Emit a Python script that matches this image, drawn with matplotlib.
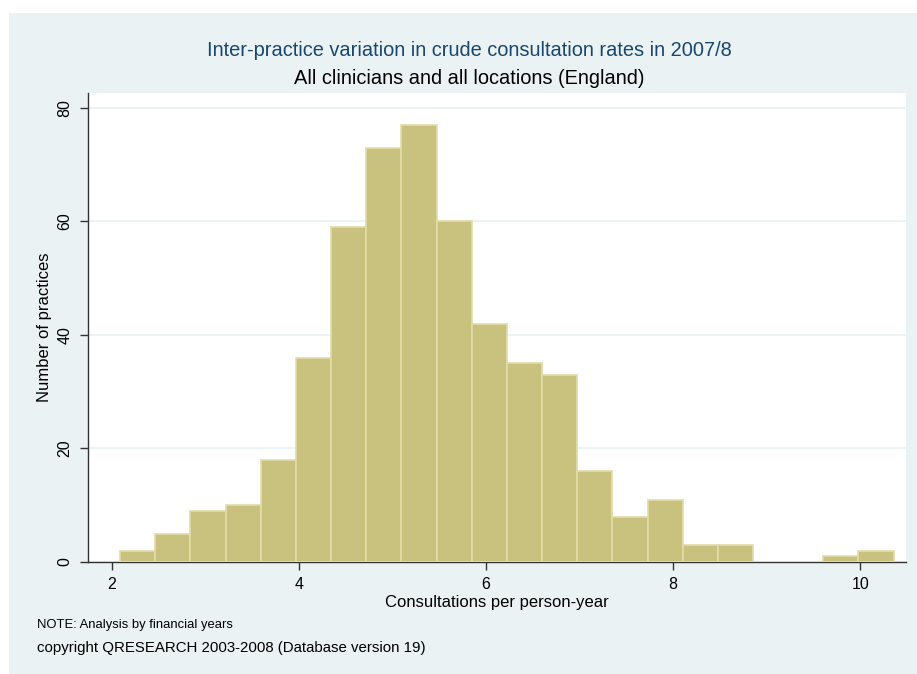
import matplotlib
matplotlib.use("Agg")
from matplotlib import pyplot as plt
from matplotlib.patches import Rectangle

# Histogram data: bin left edges and counts
bin_start = 2.086
bin_width = 0.376
counts = [2, 5, 9, 10, 18, 36, 59, 73, 77, 60, 42, 35, 33, 16, 8, 11, 3, 3, 0, 0, 1, 2]
lefts = [bin_start + i * bin_width for i in range(len(counts))]

x_ticks = [2, 4, 6, 8, 10]
y_ticks = [0, 20, 40, 60, 80]

title = "Inter-practice variation in crude consultation rates in 2007/8"
subtitle = "All clinicians and all locations (England)"
xlabel = "Consultations per person-year"
ylabel = "Number of practices"
note1 = "NOTE: Analysis by financial years"
note2 = "copyright QRESEARCH 2003-2008 (Database version 19)"

bg = '#eaf2f3'
plt.rcParams['font.family'] = ['Liberation Sans', 'DejaVu Sans']

W, H = 917, 674
fig = plt.figure(figsize=(W / 100, H / 100), dpi=100)
fig.patch.set_facecolor('white')

# outer light background panel
fig.patches.append(Rectangle((9 / W, 0), 1 - 9 / W, 1 - 13 / H,
                             transform=fig.transFigure, facecolor=bg,
                             edgecolor='none', zorder=-5))

ax_l, ax_r, ax_t, ax_b = 88, 906, 93, 562
ax = fig.add_axes([ax_l / W, 1 - ax_b / H, (ax_r - ax_l) / W, (ax_b - ax_t) / H])
ax.set_zorder(2)
ax.set_facecolor('white')

ax.bar(lefts, counts, width=bin_width, align='edge', color='#c9c27f',
       edgecolor='#e2dca8', linewidth=1.2, zorder=3)

ax.set_xlim(1.743, 10.49)
ax.set_ylim(0, 82.6)
ax.set_xticks(x_ticks)
ax.set_yticks(y_ticks)
ax.set_yticklabels([str(v) for v in y_ticks], rotation=90, va='center')
ax.yaxis.grid(True, color=bg, linewidth=1.3, zorder=0)
ax.set_axisbelow(True)

for s in ['top', 'right']:
    ax.spines[s].set_visible(False)
for s in ['left', 'bottom']:
    ax.spines[s].set_color('#333333')
    ax.spines[s].set_linewidth(1.0)

ax.tick_params(axis='both', labelsize=11.5, length=6, color='#333333', width=1)
ax.tick_params(axis='x', pad=5)
ax.tick_params(axis='y', pad=5)

ax.set_xlabel(xlabel, fontsize=12, va='center')
ax.set_ylabel(ylabel, fontsize=12, va='center')
ax.xaxis.set_label_coords(0.5, -(602 - ax_b) / (ax_b - ax_t))
ax.yaxis.set_label_coords(-(ax_l - 44) / (ax_r - ax_l), 0.5)

fig.text(469 / W, 1 - 56 / H, title, ha='center', va='baseline',
         fontsize=14.4, color='#1a476f')
fig.text(469 / W, 1 - 84 / H, subtitle, ha='center', va='baseline',
         fontsize=14.4, color='black')
fig.text(37 / W, 1 - 625 / H, note1, ha='left', va='center', fontsize=9.4)
fig.text(37 / W, 1 - 648 / H, note2, ha='left', va='center', fontsize=10.8)

fig.savefig('out.png', dpi=100)
